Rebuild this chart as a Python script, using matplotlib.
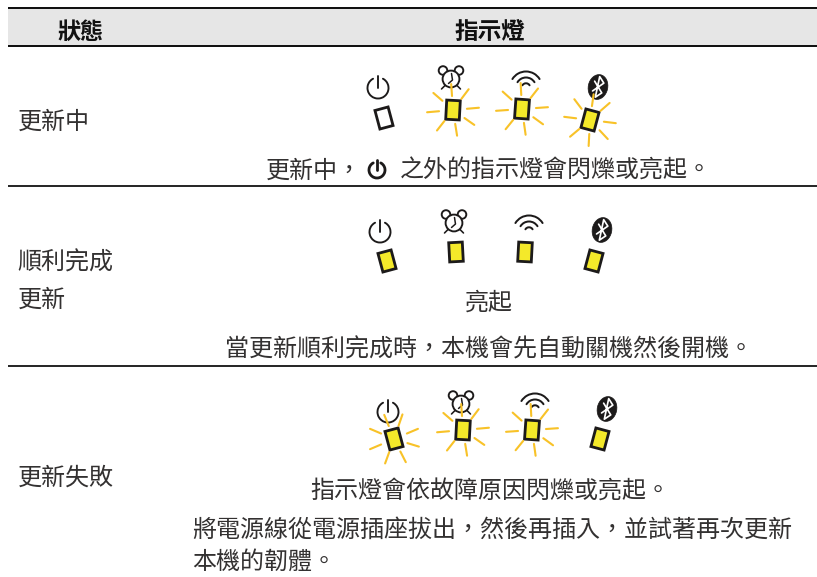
"""Firmware update status table with indicator light icons."""

import numpy as np
import matplotlib

matplotlib.use("Agg")
import matplotlib.pyplot as plt
from matplotlib.patches import Arc, Circle, Ellipse, Polygon, Rectangle

plt.rcParams["font.family"] = ["Noto Sans CJK TC", "DejaVu Sans"]

W, H = 817, 577
INK = "#1c1a1a"
TEXT = "#333131"
YELLOW = "#f4e92a"
RAY = "#f8c228"
FS = 17.3

HEADERS = ["狀態", "指示燈"]
STATUS_LABELS = ["更新中", "順利完成", "更新", "更新失敗"]
ICONS = ["power", "clock", "wifi", "bluetooth"]

# per row: is the LED filled, does it flash
ROW1_FILLED = [False, True, True, True]
ROW1_FLASH = [False, True, True, True]
ROW2_FILLED = [True, True, True, True]
ROW2_FLASH = [False, False, False, False]
ROW3_FILLED = [True, True, True, True]
ROW3_FLASH = [True, True, True, False]

RAY_ANGLES = [97, 56, 8, -32, -78, -125, 188, 142]


def line(ax, xs, ys, color=INK, px=1.6, cap="round", z=3):
    ax.plot(xs, ys, color=color, lw=px * 0.72, solid_capstyle=cap,
            solid_joinstyle="round", zorder=z)


def arc(ax, x, y, r, t1, t2, px=1.5, z=3):
    ax.add_patch(Arc((x, y), 2 * r, 2 * r, theta1=t1, theta2=t2, color=INK,
                     lw=px * 0.72, zorder=z, capstyle="round"))


def led(ax, x, y, tilt, filled, flash):
    t = np.radians(tilt)
    ux, uy = np.cos(t), np.sin(t)
    vx, vy = -np.sin(t), np.cos(t)
    corners = [(x + a * ux + b * vx, y + a * uy + b * vy)
               for a, b in [(-6.8, -9.6), (6.8, -9.6), (6.8, 9.6), (-6.8, 9.6)]]
    ax.add_patch(Polygon(corners, closed=True, fc=YELLOW if filled else "white",
                         ec=INK, lw=2.8 * 0.72, joinstyle="miter", zorder=4))
    if flash:
        for ang in RAY_ANGLES:
            a = np.radians(ang - tilt)
            ca, sa = np.cos(a), -np.sin(a)
            line(ax, [x + 14 * ca, x + 26 * ca], [y + 14 * sa, y + 26 * sa],
                 color=RAY, px=2.1, z=5)


def power(ax, x, y, r=10.5, px=1.9):
    arc(ax, x, y, r, -62, 242, px=px)
    line(ax, [x, x], [y - r - 2, y - 0.5], px=px)


def clock(ax, x, y):
    ax.add_patch(Circle((x - 8, y - 7.5), 4.3, fc="white", ec=INK, lw=1.9 * 0.72, zorder=2.9))
    ax.add_patch(Circle((x + 8, y - 7.5), 4.3, fc="white", ec=INK, lw=1.9 * 0.72, zorder=2.9))
    ax.add_patch(Circle((x, y + 1), 8.4, fc="white", ec=INK, lw=1.9 * 0.72, zorder=3))
    line(ax, [x + 0.5, x + 1.5, x - 2.5], [y - 4.5, y + 2, y + 5.5], px=1.5, z=3.1)
    line(ax, [x - 6, x - 9.5], [y + 7.5, y + 11], px=1.6)
    line(ax, [x + 6, x + 9.5], [y + 7.5, y + 11], px=1.6)


def wifi(ax, x, y):
    for r, px in [(16, 2.0), (10, 2.0), (4.2, 2.0)]:
        arc(ax, x, y + 9.5, r, 212, 328, px=px)


def bluetooth(ax, x, y):
    ax.add_patch(Ellipse((x, y), 19.5, 25, angle=12, fc=INK, ec=INK, lw=0.5, zorder=3))
    xs = np.array([-5.0, 4.4, -1.0, -1.0, 4.4, -5.0]) + 0.5
    ys = np.array([-5.0, 5.0, 10.5, -10.5, -5.0, 5.0])
    t = np.radians(12)
    line(ax, x + xs * np.cos(t) - ys * np.sin(t), y + xs * np.sin(t) + ys * np.cos(t),
         color="white", px=1.7, z=3)


DRAW = {"power": power, "clock": clock, "wifi": wifi, "bluetooth": bluetooth}


def icon_row(ax, icon_xy, led_xy, tilts, filled, flash):
    for name, (ix, iy), (lx, ly), t, f, fl in zip(ICONS, icon_xy, led_xy, tilts, filled, flash):
        DRAW[name](ax, ix, iy)
        led(ax, lx, ly, t, f, fl)


fig = plt.figure(figsize=(W / 100, H / 100), dpi=100, facecolor="white")
ax = fig.add_axes([0, 0, 1, 1])
ax.set_xlim(0, W)
ax.set_ylim(H, 0)
ax.axis("off")

# header band and rules
ax.add_patch(Rectangle((8, 8), W - 8, 38, fc="#e6e6e6", ec="none", zorder=1))
for y, px in [(8, 2.0), (46, 2.0), (186, 1.8), (366, 1.8)]:
    line(ax, [8, W], [y, y], color="#111111", px=px, cap="butt", z=2)

ax.text(80, 32, HEADERS[0], ha="center", va="center", fontsize=16.6, weight="bold", color="#111111")
ax.text(490, 32, HEADERS[1], ha="center", va="center", fontsize=17, weight="bold", color="#111111")

for label, y in zip(STATUS_LABELS, [122, 263, 300, 478]):
    ax.text(17.5, y, label, ha="left", va="center", fontsize=FS, color=TEXT)

icon_row(ax, [(378, 88), (451, 78), (526, 78), (598, 87)],
         [(384, 118), (453, 110), (522, 109), (590, 120)],
         [-15, 3, 4, 15], ROW1_FILLED, ROW1_FLASH)
icon_row(ax, [(380, 232), (454, 222), (529, 222), (602, 230)],
         [(387, 261), (456, 252), (525, 252), (594, 261)],
         [-15, -3, 3, 15], ROW2_FILLED, ROW2_FLASH)
icon_row(ax, [(388, 412), (461, 403), (535, 400), (607, 409)],
         [(394, 439), (463, 430), (532, 430), (600, 439)],
         [-15, 3, 4, 15], ROW3_FILLED, ROW3_FLASH)

ax.text(266, 171, "更新中，", ha="left", va="center", fontsize=FS, color=TEXT)
power(ax, 377, 170, r=8, px=2.8)
ax.text(400, 171, "之外的指示燈會閃爍或亮起。", ha="left", va="center", fontsize=FS, color=TEXT)

ax.text(489, 303, "亮起", ha="center", va="center", fontsize=FS, color=TEXT)
ax.text(225, 349, "當更新順利完成時，本機會先自動關機然後開機。", ha="left", va="center", fontsize=FS, color=TEXT)
ax.text(310, 491, "指示燈會依故障原因閃爍或亮起。", ha="left", va="center", fontsize=FS, color=TEXT)
ax.text(192, 530, "將電源線從電源插座拔出，然後再插入，並試著再次更新", ha="left", va="center", fontsize=FS, color=TEXT)
ax.text(192, 562, "本機的韌體。", ha="left", va="center", fontsize=FS, color=TEXT)

fig.savefig("out.png", dpi=100)
